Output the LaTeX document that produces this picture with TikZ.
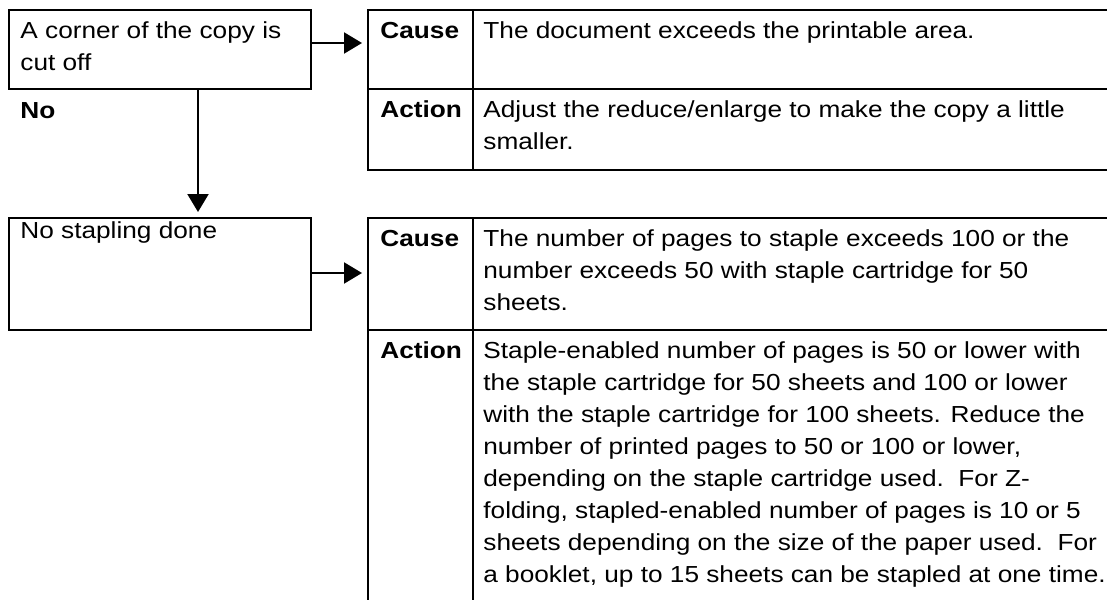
\documentclass[tikz,border=0pt]{standalone}
\usepackage{fontspec}
\setmainfont{Liberation Sans}[FakeStretch=1.13]
\usetikzlibrary{arrows.meta,calc,positioning}

\begin{document}
\begin{tikzpicture}[
  x=0.5pt,y=-0.5pt,
  font=\fontsize{11.6}{16}\selectfont,
  flow/.style={-{Triangle[length=9pt,width=10.5pt]},line width=1.1pt},
  box/.style={draw,line width=1.1pt,inner sep=0pt,outer sep=0pt,
    anchor=north west},
  txt/.style={anchor=north west,inner sep=0pt,align=left},
  head/.style={txt,font=\fontsize{11.6}{16}\selectfont\bfseries}
]
\useasboundingbox (0,0) rectangle (1107,599);
\clip (0,0) rectangle (1107,599);

% symptoms on the left
\node[box,minimum width=151pt,minimum height=39.5pt] (corner) at (9,10) {};
\node[box,minimum width=151pt,minimum height=56pt] (staple) at (9,218) {};
\node[txt] (cornertext) at (20,15.6) {\strut A corner of the copy is\\cut off};
\node[head] (nolabel) at (20,95.6) {\strut No};
\node[txt] (stapletext) at (20,215.6) {\strut No stapling done};

% first table (open to the right)
\node[box,minimum width=52.5pt,minimum height=39.5pt] (cause1) at (368,10) {};
\node[box,minimum width=52.5pt,minimum height=40.5pt] (action1) at (368,89) {};
\node[box,minimum width=330pt,minimum height=39.5pt] (causeval1) at (473,10) {};
\node[box,minimum width=330pt,minimum height=40.5pt] (actionval1) at (473,89) {};
\node[head] (causelbl1) at (380,15.6) {\strut Cause};
\node[txt] (causetxt1) at (483,15.6)
  {\strut The document exceeds the printable area.};
\node[head] (actionlbl1) at (380,94.6) {\strut Action};
\node[txt] (actiontxt1) at (483,94.6)
  {\strut Adjust the reduce/enlarge to make the copy a little\\smaller.};

% second table (open to the right and below)
\node[box,minimum width=52.5pt,minimum height=56pt] (cause2) at (368,218) {};
\node[box,minimum width=52.5pt,minimum height=150pt] (action2) at (368,330) {};
\node[box,minimum width=330pt,minimum height=56pt] (causeval2) at (473,218) {};
\node[box,minimum width=330pt,minimum height=150pt] (actionval2) at (473,330) {};
\node[head] (causelbl2) at (380,223.6) {\strut Cause};
\node[txt] (causetxt2) at (483,223.6)
  {\strut The number of pages to staple exceeds 100 or the\\
   number exceeds 50 with staple cartridge for 50\\sheets.};
\node[head] (actionlbl2) at (380,335.6) {\strut Action};
\node[txt] (actiontxt2) at (483,335.6)
  {\strut Staple-enabled number of pages is 50 or lower with\\
   the staple cartridge for 50 sheets and 100 or lower\\
   with the staple cartridge for 100 sheets. Reduce the\\
   number of printed pages to 50 or 100 or lower,\\
   depending on the staple cartridge used.\ \ For Z-\\
   folding, stapled-enabled number of pages is 10 or 5\\
   sheets depending on the size of the paper used.\ \ For\\
   a booklet, up to 15 sheets can be stapled at one time.};

% connectors
\draw[flow] ($(corner.east)+(0,-6.5)$) -- ($(cause1.west)+(-6,-6.5)$);
\draw[flow] ($(corner.south)+(38,0)$) -- ($(staple.north)+(38,-6)$);
\draw[flow] ($(staple.east)+(0,-1)$) -- ($(cause2.west)+(-6,-1)$);

\end{tikzpicture}
\end{document}
